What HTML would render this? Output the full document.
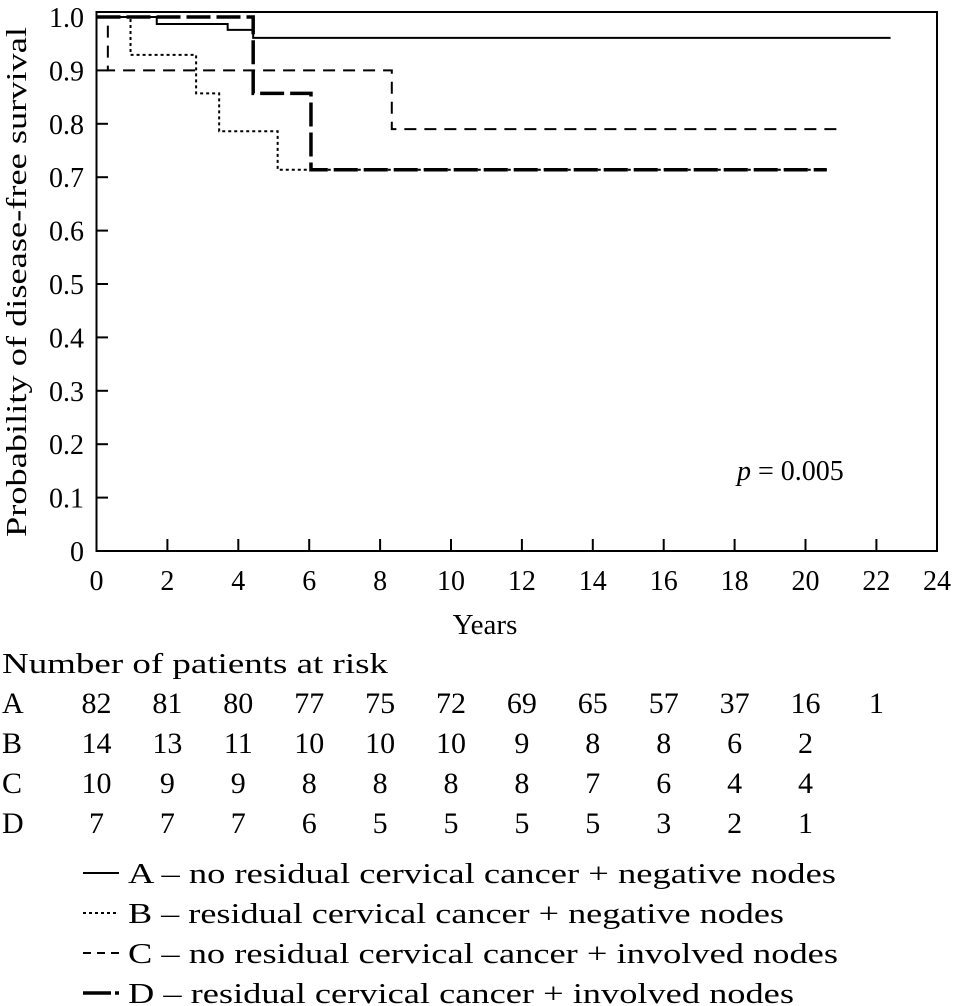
<!DOCTYPE html>
<html><head><meta charset="utf-8"><style>
html,body{margin:0;padding:0;background:#fff;}
svg{display:block;font-family:"Liberation Serif",serif;}
</style></head><body>
<svg id="chart" width="954" height="1006" viewBox="0 0 954 1006">
<rect x="96.5" y="12" width="840.5" height="539" fill="none" stroke="#000" stroke-width="2"/>
<g id="axes"></g>
<g id="curves"></g>
<text x="737" y="480" font-size="28"><tspan font-style="italic">p</tspan> = 0.005</text>
<text transform="translate(26,282) rotate(-90)" text-anchor="middle" font-size="29" textLength="510" lengthAdjust="spacingAndGlyphs">Probability of disease-free survival</text>
<text x="485" y="634" text-anchor="middle" font-size="29">Years</text>
<text x="2" y="673" font-size="29" textLength="386" lengthAdjust="spacingAndGlyphs">Number of patients at risk</text>
<g id="risk"></g>
<g id="legend"></g>
</svg>
<script>
const xTicks=[0,2,4,6,8,10,12,14,16,18,20,22,24];
const yTicks=[0,0.1,0.2,0.3,0.4,0.5,0.6,0.7,0.8,0.9,1.0];
const yTickLabels=["0","0.1","0.2","0.3","0.4","0.5","0.6","0.7","0.8","0.9","1.0"];
const seriesNames=["A","B","C","D"];
const timesA=[0,1.7,3.7,4.42,22.4];
const survA=[1.0,0.987,0.976,0.961,0.961];
const timesB=[0,0.96,2.81,3.46,5.11,20.6];
const survB=[1.0,0.929,0.857,0.786,0.714,0.714];
const timesC=[0,0.32,8.33,21.0];
const survC=[1.0,0.9,0.79,0.79];
const timesD=[0,4.42,6.05,20.6];
const survD=[1.0,0.857,0.714,0.714];
const riskA=[82,81,80,77,75,72,69,65,57,37,16,1];
const riskB=[14,13,11,10,10,10,9,8,8,6,2];
const riskC=[10,9,9,8,8,8,8,7,6,4,4];
const riskD=[7,7,7,6,5,5,5,5,3,2,1];
const legendLabels=["A \u2013 no residual cervical cancer + negative nodes","B \u2013 residual cervical cancer + negative nodes","C \u2013 no residual cervical cancer + involved nodes","D \u2013 residual cervical cancer + involved nodes"];

const NS="http://www.w3.org/2000/svg";
const X=t=>96.5+t*35.45;
const Y=v=>551-v*534;
function mk(tag,attrs,parent,text){const e=document.createElementNS(NS,tag);for(const k in attrs)e.setAttribute(k,attrs[k]);if(text!==undefined)e.textContent=text;parent.appendChild(e);return e;}
const axes=document.getElementById('axes');
xTicks.forEach((t,i)=>{
  if(t>0&&t<24){const l=mk('line',{x1:X(t),x2:X(t),y1:551,y2:539,stroke:'#000','stroke-width':2},axes);
  
  }
  const lx=t===24?937:X(t);
  const tx=mk('text',{x:lx,y:590,'text-anchor':'middle','font-size':28},axes,String(t));
  
  
});
yTicks.forEach((v,i)=>{
  if(v>0&&v<1){const l=mk('line',{x1:96.5,x2:108,y1:Y(v),y2:Y(v),stroke:'#000','stroke-width':2},axes);
  
  }
  const tx=mk('text',{x:84,y:Y(v)+10,'text-anchor':'end','font-size':28},axes,yTickLabels[i]);
  
  
});
const styles={A:{w:2,d:''},B:{w:2,d:'3 3'},C:{w:2,d:'12 8'},D:{w:3.5,d:'24 6'}};
const data={A:[timesA,survA],B:[timesB,survB],C:[timesC,survC],D:[timesD,survD]};
const curves=document.getElementById('curves');
seriesNames.forEach(s=>{
  const [t,v]=data[s];let d='M'+X(t[0])+','+Y(v[0]);
  for(let i=1;i<t.length;i++){d+=' H'+X(t[i])+' V'+Y(v[i]);}
  const p=mk('path',{d:d,fill:'none',stroke:'#000','stroke-width':styles[s].w,'stroke-dasharray':styles[s].d},curves);
  
  
});
const risk=document.getElementById('risk');
const risks=[riskA,riskB,riskC,riskD];
seriesNames.forEach((s,r)=>{
  const y=713+r*40;
  const lab=mk('text',{x:2,y:y,'font-size':30},risk,s);
  
  
  risks[r].forEach((n,i)=>{
    const tx=mk('text',{x:X(i*2),y:y,'text-anchor':'middle','font-size':30},risk,String(n));
    
    
  });
});
const legend=document.getElementById('legend');
const legLens=[708,656,710,666];
seriesNames.forEach((s,i)=>{
  const y=873+i*40;
  const l=mk('line',{x1:83,x2:119,y1:y,y2:y,stroke:'#000','stroke-width':styles[s].w,'stroke-dasharray':s==='C'?'8 6':(s==='D'?'28 4':styles[s].d)},legend);
  
  
  const tx=mk('text',{x:128,y:y+10,'font-size':29,textLength:legLens[i],lengthAdjust:'spacingAndGlyphs'},legend,legendLabels[i]);
  
  
});
</script>
</body></html>
